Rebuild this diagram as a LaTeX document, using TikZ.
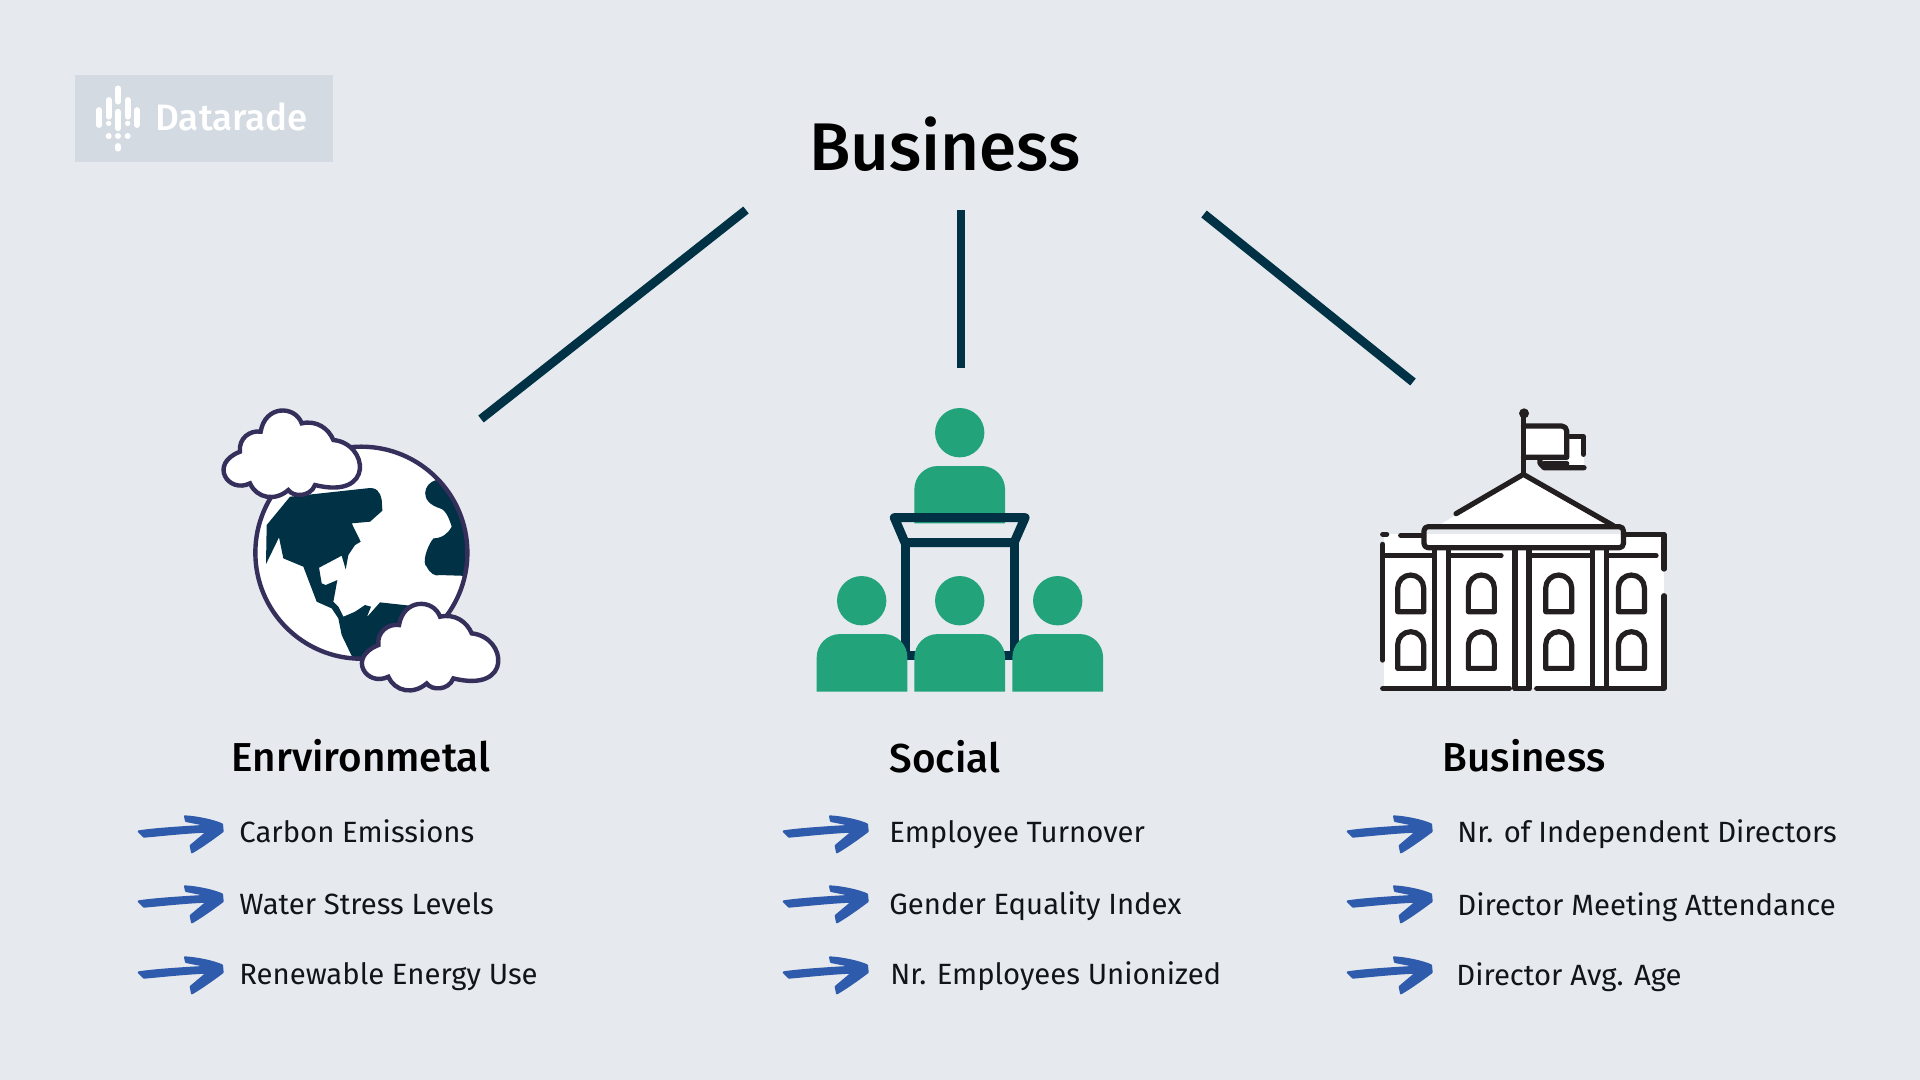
\documentclass[tikz,border=0pt]{standalone}
\usepackage{fontspec}
\setmainfont{Fira Sans}
\newfontfamily\mediumface{Fira Sans Medium}
\definecolor{pagebg}{HTML}{E6E9EE}
\definecolor{logobg}{HTML}{D3DAE1}
\definecolor{navy}{HTML}{003145}
\definecolor{outlinepurple}{HTML}{352F5B}
\definecolor{teamgreen}{HTML}{22A37A}
\definecolor{ink}{HTML}{231F20}
\definecolor{arrowblue}{HTML}{2F5BAC}
\definecolor{bodytext}{HTML}{111418}
\tikzset{
  spoke/.style={navy,line width=4.4pt},
  titletext/.style={font=\mediumface\fontsize{33.7}{38}\selectfont,text=black,inner sep=0pt,anchor=base},
  headtext/.style={font=\mediumface\fontsize{20.2}{24}\selectfont,text=black,inner sep=0pt,anchor=base},
  itemtext/.style={font=\fontsize{14.65}{18}\selectfont,text=bodytext,inner sep=0pt,anchor=base west},
  % icon artwork is laid out at three units per reference unit
  icon/.style={x=0.1667pt,y=-0.1667pt},
  bldg/.style={ink,line width=2.6pt,line cap=round,line join=round},
  cloudshape/.pic={
    \fill[white,draw=outlinepurple,line width=2.2pt]
      (150,280) .. controls (85,312) and (25,222) .. (120,185)
      .. controls (115,145) and (150,120) .. (182,125)
      .. controls (195,45) and (285,45) .. (305,100)
      .. controls (350,90) and (385,115) .. (400,150)
      .. controls (505,160) and (525,330) .. (345,285)
      .. controls (330,322) and (280,322) .. (265,300)
      .. controls (225,335) and (170,325) .. (150,280) -- cycle;
  },
  archwin/.pic={
    \draw[bldg] (0,110) -- (0,39) arc[start angle=180,end angle=360,radius=39] -- (78,110) -- cycle;
  },
  handarrow/.pic={
    \fill[arrowblue,draw=arrowblue,line width=1pt,line join=round]
      (56,97) .. controls (100,90) and (190,84) .. (268,80)
      -- (198,66) -- (195,52) .. controls (230,54) and (280,64) .. (306,76)
      -- (308,97) .. controls (280,118) and (245,143) .. (216,160)
      -- (212,140) -- (262,98) .. controls (200,100) and (130,108) .. (72,113) -- cycle;
  },
  personbody/.pic={
    \fill[teamgreen] (0,173) -- (0,70) arc[start angle=180,end angle=270,radius=70]
      -- (202,0) arc[start angle=270,end angle=360,radius=70] -- (272,173) -- cycle;
  },
}
\begin{document}
\begin{tikzpicture}[x=0.5pt,y=-0.5pt]
\useasboundingbox (0,0) rectangle (1920,1080);
\fill[pagebg] (0,0) rectangle (1920,1080);

% logo plate with its mark and wordmark
\fill[logobg] (75,75) rectangle (333,162);
\begin{scope}[shift={(60,60)},icon,white,line width=2.9pt,line cap=round]
  \draw (117,150) -- (117,195);
  \draw (146,120) -- (146,170);
  \draw (174,85) -- (174,125);
  \draw (174,155) -- (174,205);
  \draw (203,120) -- (203,170);
  \draw (231,150) -- (231,195);
  \fill (146,190) circle[radius=8];
  \fill (203,190) circle[radius=8];
  \fill (146,228) circle[radius=9];
  \fill (174,228) circle[radius=9];
  \fill (203,228) circle[radius=9];
  \draw (174,258) -- (174,266);
\end{scope}
\node[inner sep=0pt,anchor=base west,text=white,font=\mediumface\fontsize{18.4}{20}\selectfont] (wordmark) at (155,131) {Datarade};

% heading and its three spokes
\node[titletext] (title) at (945,171) {Business};
\coordinate (spokeLa) at (746,210);
\coordinate (spokeLb) at (481,419);
\coordinate (spokeMa) at (961,210);
\coordinate (spokeMb) at (961,368);
\coordinate (spokeRa) at (1204,214);
\coordinate (spokeRb) at (1413,382);
\draw[spoke] (spokeLa) -- (spokeLb);
\draw[spoke] (spokeMa) -- (spokeMb);
\draw[spoke] (spokeRa) -- (spokeRb);

% globe with continents and two clouds
\begin{scope}[shift={(200,390)},icon]
  \begin{scope}
    \clip (484,488) circle[radius=318];
    \fill[white] (484,488) circle[radius=318];
    \fill[navy] (200,405) -- (270,320) -- (500,295) .. controls (530,290) and (540,305) .. (545,330)
      -- (547,362) -- (510,395) -- (455,400) -- (482,455) -- (465,465) -- (445,495) -- (437,538)
      -- (425,497) -- (357,533) -- (365,580) -- (377,585) -- (412,570) -- (400,635) -- (415,650)
      -- (430,680) -- (465,665) -- (495,645) -- (513,650) -- (500,682) -- (540,637) -- (640,648)
      -- (600,800) -- (460,808) -- (425,735) -- (415,685) -- (395,655) -- (350,635) -- (310,530)
      -- (250,505) -- (237,442) -- (198,522) -- cycle;
    \fill[navy] (708,270) .. controls (670,280) and (655,335) .. (720,355)
      .. controls (740,360) and (750,395) .. (755,410)
      .. controls (745,430) and (725,445) .. (700,445)
      .. controls (680,470) and (665,520) .. (680,530)
      .. controls (690,550) and (705,560) .. (720,555) -- (810,558) -- (830,400) -- (760,270) -- cycle;
  \end{scope}
  \draw[outlinepurple,line width=2.2pt] (484,488) circle[radius=318];
  \pic at (0,0) {cloudshape};
  \pic at (415,580) {cloudshape};
\end{scope}

% lectern and audience
\begin{scope}[shift={(790,390)},icon]
  \fill[teamgreen] (509,128) circle[radius=74];
  \fill[teamgreen] (373,400) -- (373,298) arc[start angle=180,end angle=270,radius=70]
    -- (575,228) arc[start angle=270,end angle=360,radius=70] -- (645,400) -- cycle;
  \draw[navy,line width=4.5pt,line join=round] (313,383) -- (705,383) -- (672,458) -- (345,458) -- cycle;
  \draw[navy,line width=4.5pt,line join=round] (345,458) -- (345,795) -- (672,795) -- (672,458);
  \fill[teamgreen] (215,632) circle[radius=74];
  \fill[teamgreen] (509,632) circle[radius=74];
  \fill[teamgreen] (803,632) circle[radius=74];
  \pic at (80,732) {personbody};
  \pic at (373,732) {personbody};
  \pic at (667,732) {personbody};
\end{scope}

% government building
\begin{scope}[shift={(1360,395)},icon]
  \fill[white] (72,418) rectangle (912,880);
  \fill[white] (235,392) -- (490,238) -- (760,392) -- cycle;
  \fill[white] (495,95) rectangle (622,185);
  \fill[white] (625,125) rectangle (672,212);
  \fill[ink] (492,55) circle[radius=15];
  \draw[bldg] (490,55) -- (490,236);
  \draw[bldg] (490,93) -- (605,93) arc[start angle=270,end angle=360,radius=15] -- (620,187) -- (490,187);
  \draw[bldg] (630,125) -- (670,125) -- (670,178);
  \draw[bldg] (540,190) -- (540,205) -- (552,218) -- (672,218);
  \draw[bldg] (552,205) -- (620,205);
  \draw[bldg] (288,356) -- (490,238) -- (760,392);
  \draw[bldg,rounded corners=2pt] (192,395) rectangle (790,458);
  \draw[bldg] (122,421) -- (190,421);
  \draw[bldg] (790,418) -- (912,418) -- (912,522);
  \draw[bldg] (912,602) -- (912,880) -- (530,880);
  \draw[bldg] (68,448) -- (68,795);
  \draw[bldg] (68,418) -- (80,418);
  \draw[bldg] (68,880) -- (448,880);
  \draw[bldg] (465,880) -- (507,880);
  \draw[bldg] (75,482) -- (220,482);
  \draw[bldg] (272,482) -- (423,482);
  \draw[bldg] (510,482) -- (695,482);
  \draw[bldg] (745,482) -- (888,482);
  \foreach \cx in {223,265,465,507,697,740} \draw[bldg] (\cx,460) -- (\cx,880);
  \foreach \wx in {113,325,557,775} {
    \pic at (\wx,540) {archwin};
    \pic at (\wx,710) {archwin};
  }
\end{scope}

% column headings
\node[headtext] (envhead) at (361,771) {Enrvironmetal};
\node[headtext] (sochead) at (945,772) {Social};
\node[headtext] (bizhead) at (1524,771) {Business};

% bullet arrows
\foreach \colx in {0,645,1209} \foreach \rowy in {0,70,141} {
  \begin{scope}[shift={(120+\colx,799+\rowy)},icon]
    \pic {handarrow};
  \end{scope}
}

% list entries
\node[itemtext] (e1) at (239,842) {Carbon Emissions};
\node[itemtext] (e2) at (239,914) {Water Stress Levels};
\node[itemtext] (e3) at (239,984) {Renewable Energy Use};
\node[itemtext] (s1) at (889,842) {Employee Turnover};
\node[itemtext] (s2) at (889,914) {Gender Equality Index};
\node[itemtext] (s3) at (890,984) {Nr. Employees Unionized};
\node[itemtext] (b1) at (1457,842) {Nr. of Independent Directors};
\node[itemtext] (b2) at (1457,915) {Director Meeting Attendance};
\node[itemtext] (b3) at (1456,985) {Director Avg. Age};
\end{tikzpicture}
\end{document}
